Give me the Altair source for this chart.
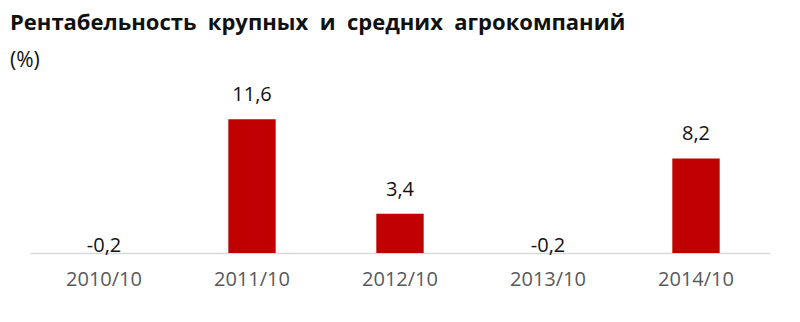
import altair as alt
import pandas as pd

categories = ["2010/10", "2011/10", "2012/10", "2013/10", "2014/10"]
values = [-0.2, 11.6, 3.4, -0.2, 8.2]

df = pd.DataFrame({"cat": categories, "value": values})

FONT = "Open Sans"
SP = "\u00a0 "

base = alt.Chart(df).transform_calculate(
    label="replace(toString(datum.value), '.', ',')"
)

x = alt.X("cat:N", sort=categories, title=None,
          scale=alt.Scale(paddingInner=0.68, paddingOuter=0.34),
          axis=alt.Axis(labelAngle=0, ticks=False, domainColor="#d9d9d9",
                        domainWidth=1.5, labelColor="#595959", labelFontSize=20,
                        labelFont=FONT, labelPadding=16))
y = alt.Y("value:Q", title=None, scale=alt.Scale(domain=[0, 13], nice=False, clamp=True),
          axis=None)

bars = base.mark_bar(color="#C00000").encode(x=x, y=y)

pos_labels = base.transform_filter("datum.value >= 0").mark_text(
    baseline="bottom", dy=-14, fontSize=20, font=FONT, color="#111111"
).encode(x=alt.X("cat:N", sort=categories), y="value:Q", text="label:N")

neg_labels = base.transform_filter("datum.value < 0").mark_text(
    baseline="bottom", dy=3, fontSize=20, font=FONT, color="#111111"
).encode(x=alt.X("cat:N", sort=categories), y=alt.datum(0), text="label:N")

title_text = SP.join(["Рентабельность", "крупных", "и", "средних", "агрокомпаний"])

chart = alt.layer(bars, pos_labels, neg_labels).properties(
    width=740, height=150,
    title=alt.Title(
        title_text,
        subtitle="(%)",
        anchor="start", frame="group", dx=-20, offset=13,
        font=FONT, fontSize=22, fontWeight="bold", color="#111111",
        subtitleFont=FONT, subtitleFontSize=21, subtitleColor="#111111",
        subtitlePadding=15,
    ),
    autosize=alt.AutoSizeParams(type="none"),
    padding={"left": 30, "top": 103, "right": 30, "bottom": 69},
).configure_view(stroke=None)

chart.save("out.html", embed_options={"renderer": "svg", "actions": False})
